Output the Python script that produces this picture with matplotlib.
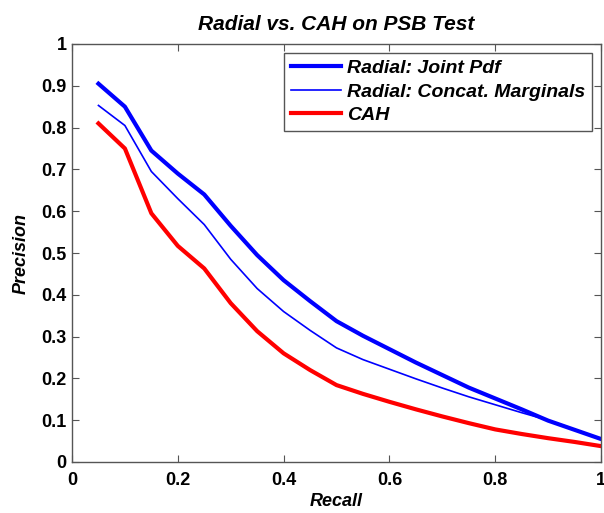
import matplotlib
matplotlib.use("Agg")
import matplotlib.pyplot as plt

plt.rcParams['font.family'] = ['Liberation Sans', 'DejaVu Sans']

# data
recall = [0.05, 0.10, 0.15, 0.20, 0.25, 0.30, 0.35, 0.40, 0.45, 0.50,
          0.55, 0.60, 0.65, 0.70, 0.75, 0.80, 0.85, 0.90, 0.95, 1.00]
joint_pdf = [0.905, 0.850, 0.745, 0.690, 0.640, 0.565, 0.495, 0.435, 0.385, 0.337,
             0.302, 0.270, 0.238, 0.208, 0.178, 0.152, 0.126, 0.099, 0.077, 0.055]
concat_marg = [0.853, 0.805, 0.695, 0.630, 0.568, 0.485, 0.415, 0.360, 0.315, 0.273,
               0.245, 0.222, 0.199, 0.177, 0.156, 0.137, 0.118, 0.100, 0.078, 0.055]
cah = [0.810, 0.750, 0.595, 0.517, 0.463, 0.380, 0.313, 0.260, 0.220, 0.184,
       0.163, 0.144, 0.126, 0.109, 0.093, 0.078, 0.067, 0.057, 0.048, 0.038]

fig = plt.figure(figsize=(6.04, 5.13), dpi=100)
ax = fig.add_axes([72 / 604, 1 - 462 / 513, 529 / 604, 418 / 513])

ax.plot(recall, joint_pdf, color='#0000ff', lw=3, label='Radial: Joint Pdf')
ax.plot(recall, concat_marg, color='#0000ff', lw=1.2, label='Radial: Concat. Marginals')
ax.plot(recall, cah, color='#ff0000', lw=3, label='CAH')

ax.set_xlim(0, 1)
ax.set_ylim(0, 1)
ax.set_xticks([0, 0.2, 0.4, 0.6, 0.8, 1])
ax.set_xticklabels(['0', '0.2', '0.4', '0.6', '0.8', '1'])
ax.set_yticks([i / 10 for i in range(11)])
ax.set_yticklabels(['0'] + ['0.%d' % i for i in range(1, 10)] + ['1'])
ax.tick_params(direction='in', length=5, width=0.8, color='#555555',
               labelsize=13, top=True, right=True, pad=4)
ax.tick_params(axis='x', pad=7)
for lab in ax.get_xticklabels() + ax.get_yticklabels():
    lab.set_fontweight('bold')
for s in ax.spines.values():
    s.set_color('#555555')
    s.set_linewidth(1)

ax.set_xlabel('Recall', fontsize=13, fontweight='bold', fontstyle='italic', labelpad=3)
ax.set_ylabel('Precision', fontsize=13, fontweight='bold', fontstyle='italic', labelpad=8)
ax.set_title('Radial vs. CAH on PSB Test', fontsize=15, fontweight='bold',
             fontstyle='italic', pad=10)

leg = ax.legend(loc='upper right', fancybox=False, framealpha=1, borderpad=0.35,
                handlelength=2.6, handletextpad=0.3, labelspacing=0.3,
                borderaxespad=0.45,
                prop={'size': 14, 'weight': 'bold', 'style': 'italic'})
leg.get_frame().set_edgecolor('#555555')
leg.get_frame().set_linewidth(1)

fig.savefig('out.png', dpi=100)
